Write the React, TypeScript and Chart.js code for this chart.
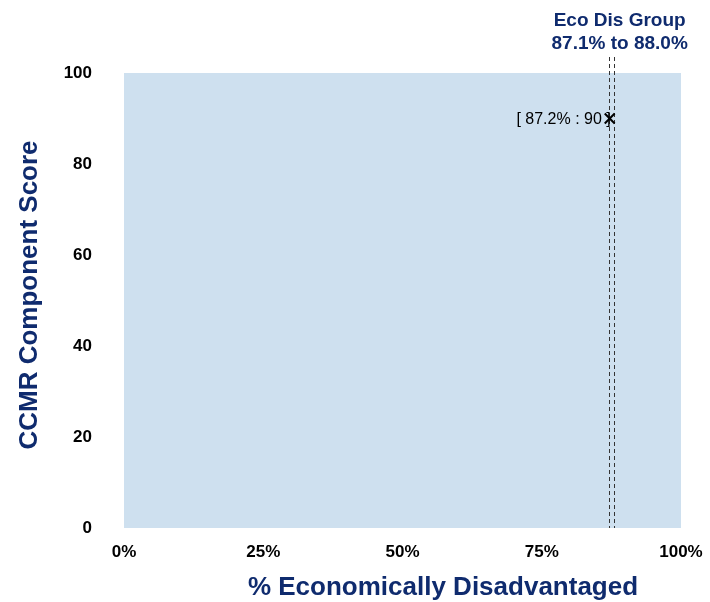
import React, { useEffect, useRef } from "react";
import { Chart, registerables } from "chart.js";

Chart.register(...registerables);

const groupRange = [87.1, 88.0];
const pointX = [87.2];
const pointY = [90];
const xTicks = [0, 25, 50, 75, 100];
const yTicks = [0, 20, 40, 60, 80, 100];
const groupTitle = ["Eco Dis Group", "87.1% to 88.0%"];
const xTitle = "% Economically Disadvantaged";
const yTitle = "CCMR Component Score";

const NAVY = "#0f2b6e";
const BG = "#cee0ef";
const FONT = "'Liberation Sans'";

const decorPlugin = {
  id: "decor",
  beforeDatasetsDraw(chart: any) {
    const { ctx, chartArea: a, scales } = chart;
    ctx.save();
    ctx.fillStyle = BG;
    ctx.fillRect(a.left, a.top, a.right - a.left, a.bottom - a.top);
    ctx.strokeStyle = "#333";
    ctx.lineWidth = 1;
    ctx.setLineDash([4, 3]);
    groupRange.forEach((v) => {
      const x = Math.round(scales.x.getPixelForValue(v)) + 0.5;
      ctx.beginPath();
      ctx.moveTo(x, a.top - 16);
      ctx.lineTo(x, a.bottom);
      ctx.stroke();
    });
    ctx.setLineDash([]);
    ctx.restore();
  },
  afterDraw(chart: any) {
    const { ctx, chartArea: a, scales } = chart;
    ctx.save();
    const mid = (scales.x.getPixelForValue(groupRange[0]) + scales.x.getPixelForValue(groupRange[1])) / 2;
    ctx.fillStyle = NAVY;
    ctx.font = `bold 19px ${FONT}`;
    ctx.textAlign = "center";
    ctx.textBaseline = "middle";
    ctx.fillText(groupTitle[0], mid + 8, 21);
    ctx.fillText(groupTitle[1], mid + 8, 44);
    // point label
    const px = scales.x.getPixelForValue(pointX[0]);
    const py = scales.y.getPixelForValue(pointY[0]);
    ctx.fillStyle = "#000";
    ctx.font = `16px ${FONT}`;
    ctx.textAlign = "right";
    ctx.fillText(`[ ${pointX[0].toFixed(1)}% : ${pointY[0]} ]`, px + 1, py + 1);
    // axis titles
    ctx.fillStyle = NAVY;
    ctx.font = `bold 26px ${FONT}`;
    ctx.textAlign = "center";
    ctx.fillText(xTitle, 443, 588);
    ctx.translate(30, 295);
    ctx.rotate(-Math.PI / 2);
    ctx.fillText(yTitle, 0, 0);
    ctx.restore();
  },
};

export default function App() {
  const ref = useRef<HTMLCanvasElement>(null);
  useEffect(() => {
    const chart = new Chart(ref.current!, {
      type: "scatter",
      data: {
        datasets: [
          {
            data: pointX.map((x, i) => ({ x, y: pointY[i] })),
            pointStyle: "crossRot",
            pointRadius: 7,
            borderColor: "#000",
            borderWidth: 2,
            backgroundColor: "#000",
          },
        ],
      },
      options: {
        responsive: false,
        animation: false,
        layout: { padding: { top: 73, right: 29, left: 0, bottom: 0 } },
        plugins: { legend: { display: false }, tooltip: { enabled: false } },
        scales: {
          x: {
            type: "linear",
            min: 0,
            max: 100,
            afterBuildTicks: (s: any) => {
              s.ticks = xTicks.map((v) => ({ value: v }));
            },
            afterFit: (s: any) => {
              s.height = 602 - 528;
              s.paddingLeft = 0;
              s.paddingRight = 0;
            },
            grid: { display: false, drawTicks: false },
            border: { display: false },
            ticks: {
              padding: 14,
              color: "#000",
              font: { family: FONT, size: 17, weight: "bold" },
              callback: (v: any) => v + "%",
            },
          },
          y: {
            min: 0,
            max: 100,
            afterBuildTicks: (s: any) => {
              s.ticks = yTicks.map((v) => ({ value: v }));
            },
            afterFit: (s: any) => {
              s.width = 124;
              s.paddingTop = 0;
              s.paddingBottom = 0;
            },
            grid: { display: false, drawTicks: false },
            border: { display: false },
            ticks: {
              padding: 32,
              color: "#000",
              font: { family: FONT, size: 17, weight: "bold" },
            },
          },
        },
      },
      plugins: [decorPlugin],
    });
    return () => chart.destroy();
  }, []);
  return (
    <div style={{ position: "fixed", left: 0, top: 0, width: 710, height: 602, background: "#fff" }}>
      <canvas ref={ref} width={710} height={602} style={{ width: 710, height: 602 }} />
    </div>
  );
}
